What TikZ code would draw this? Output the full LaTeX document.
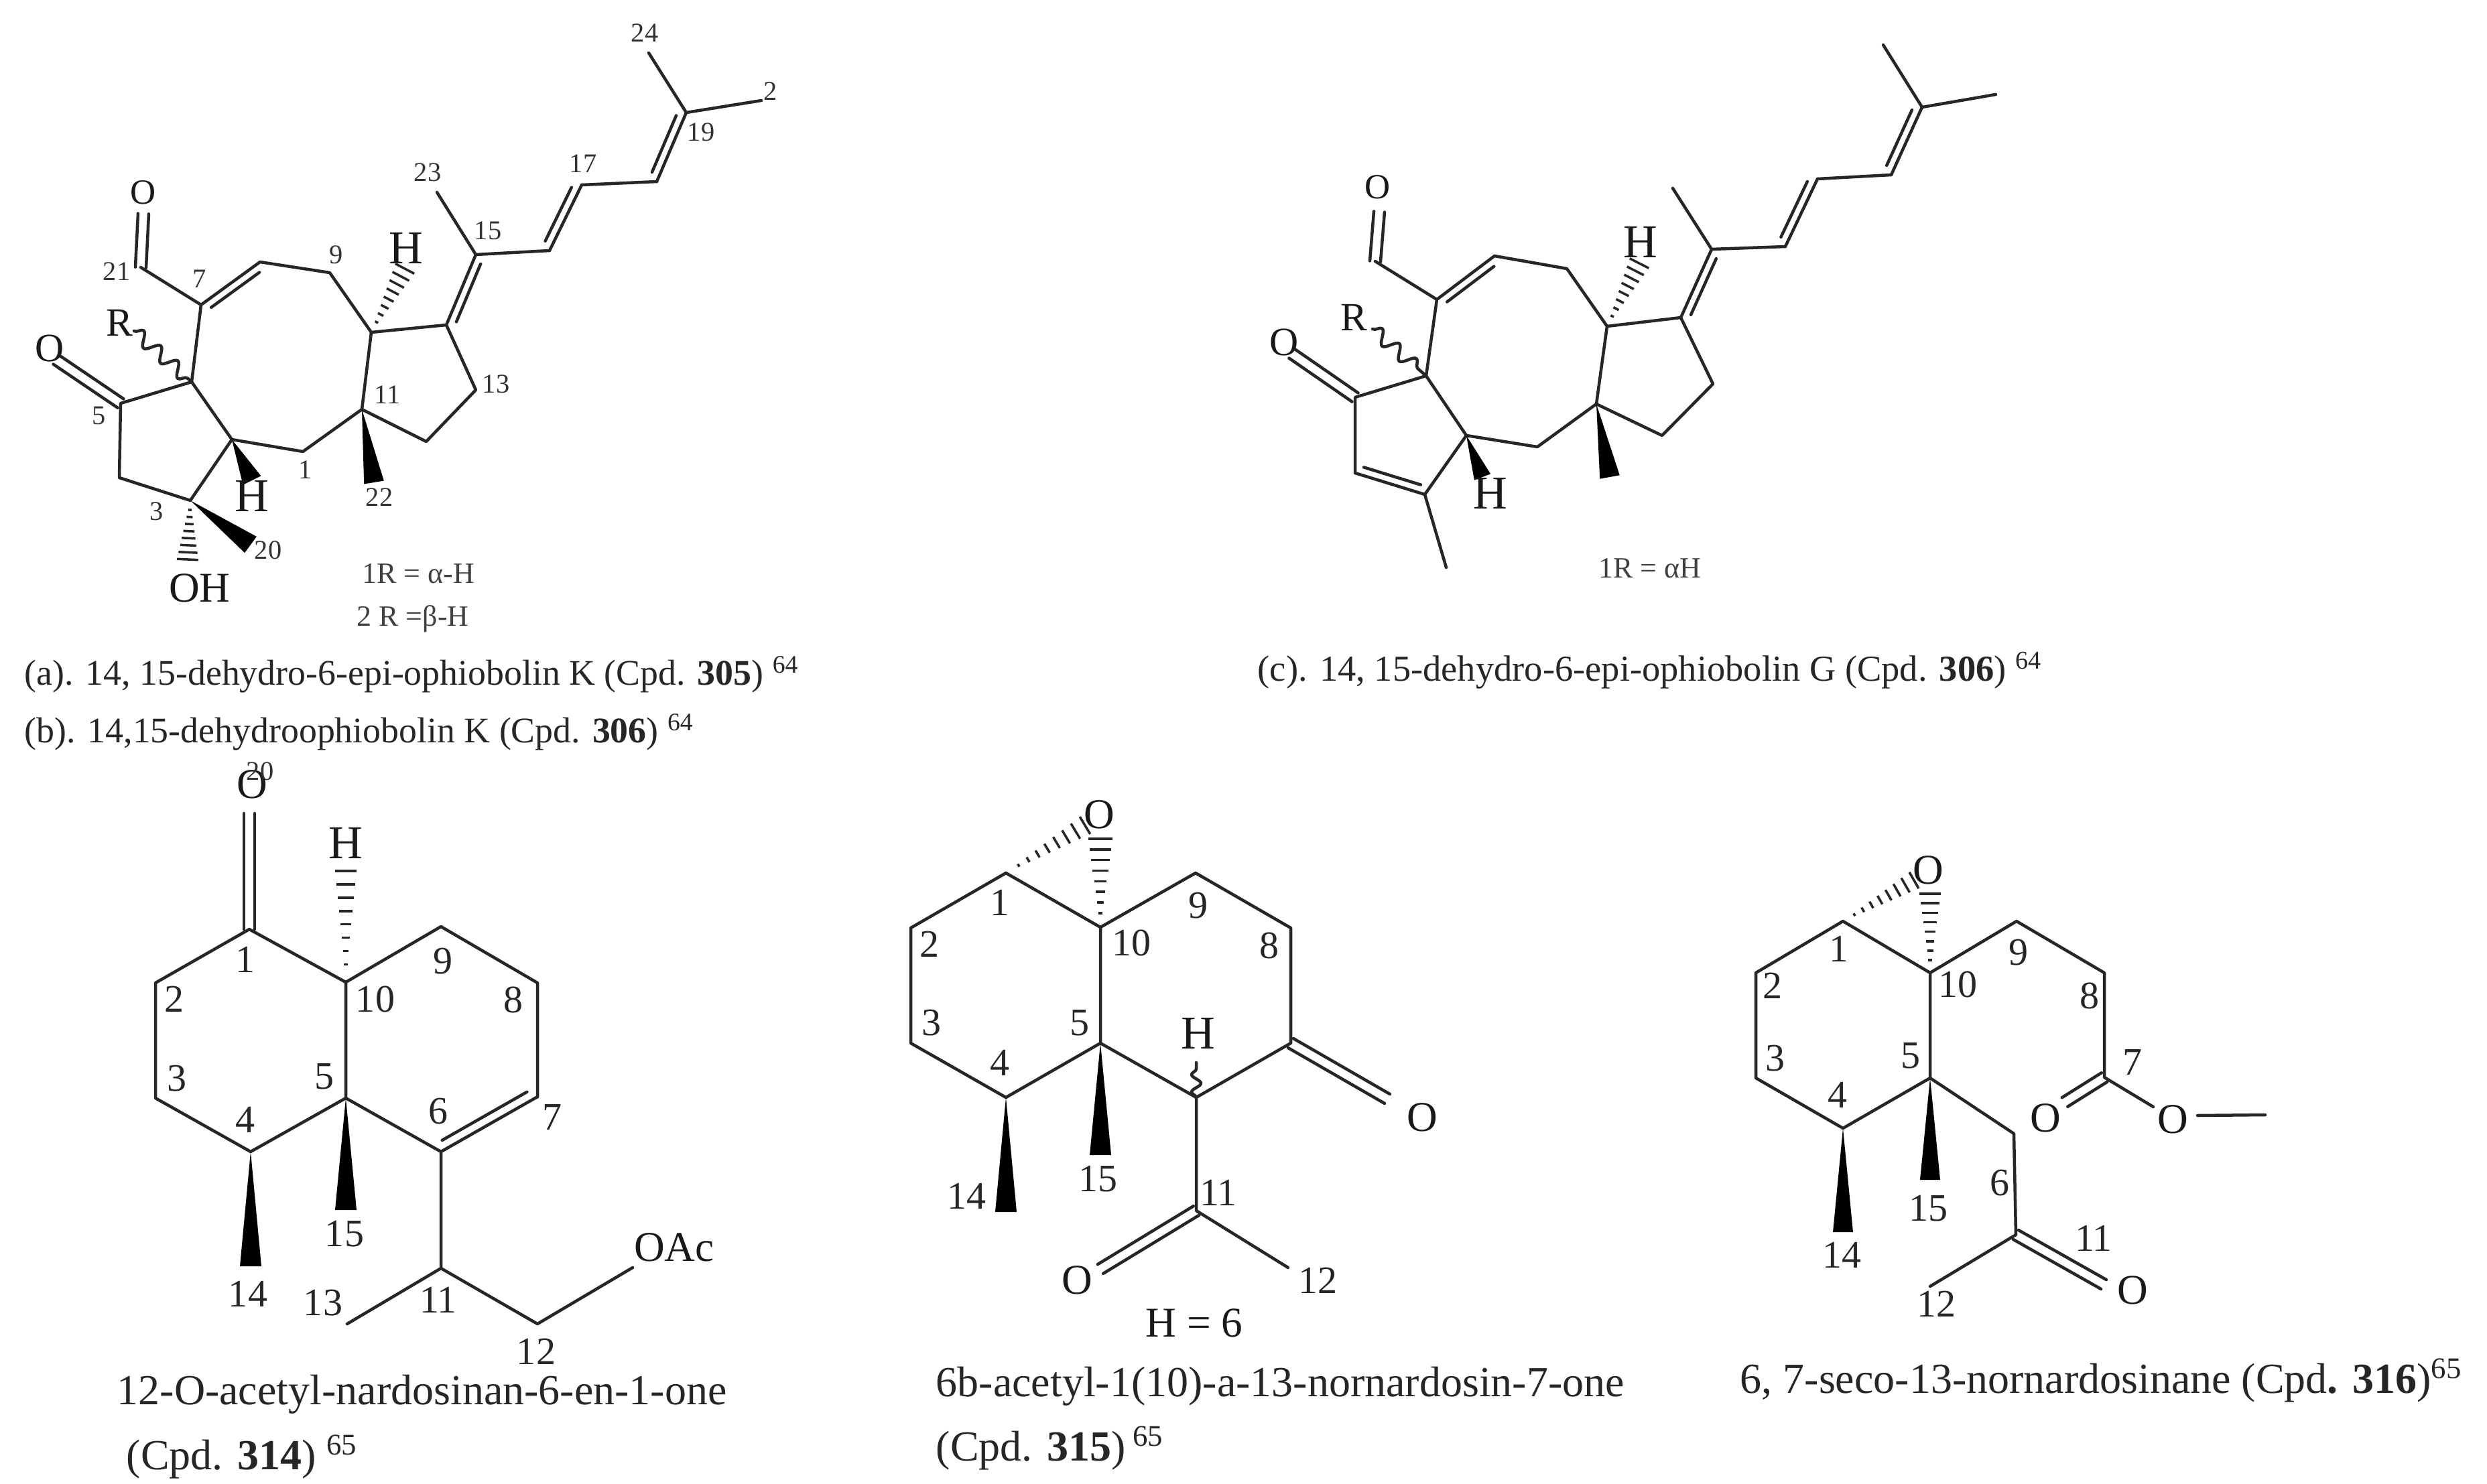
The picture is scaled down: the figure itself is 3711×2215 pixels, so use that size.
\documentclass[tikz,border=0pt]{standalone}
\usepackage{fontspec}
\setmainfont{Liberation Serif}
\usetikzlibrary{calc,decorations.pathmorphing}

\tikzset{
	bond/.style = {draw = black!85, line width = 0.045cm, line cap = round, line join = round},
	hashline/.style = {draw = black!85, line width = 0.035cm},
	wave/.style = {bond, decorate, decoration = {snake, amplitude = 0.1cm, segment length = 0.34cm}},
	numsm/.style = {inner sep = 0pt, text = black!80, font = \fontsize{11.5}{13}\selectfont},
	numlg/.style = {inner sep = 0pt, text = black!85, font = \fontsize{16.5}{19}\selectfont},
	atomsm/.style = {inner sep = 0pt, text = black!90, font = \fontsize{15}{17}\selectfont},
	atommd/.style = {inner sep = 0pt, text = black!90, font = \fontsize{17}{19}\selectfont},
	atomlg/.style = {inner sep = 0pt, text = black!90, font = \fontsize{18}{20}\selectfont},
	atomhh/.style = {inner sep = 0pt, text = black!90, font = \fontsize{20}{22}\selectfont},
	capsm/.style = {anchor = west, inner sep = 0pt, text = black!85, font = \fontsize{15.3}{18}\selectfont},
	caplg/.style = {anchor = west, inner sep = 0pt, text = black!85, font = \fontsize{18.2}{21}\selectfont},
	notesm/.style = {inner sep = 0pt, text = black!75, font = \fontsize{12.5}{14}\selectfont}
}

\newcommand{\dblbond}[3]{
	\draw[bond] (#1) -- (#2);
	\draw[bond, shorten <=0.1cm, shorten >=0.1cm] ($(#1)!#3!90:(#2)$) -- ($(#2)!#3!-90:(#1)$);
}
\newcommand{\cdblbond}[2]{
	\draw[bond] ($(#1)!0.08cm!90:(#2)$) -- ($(#2)!0.08cm!-90:(#1)$);
	\draw[bond] ($(#1)!-0.08cm!90:(#2)$) -- ($(#2)!-0.08cm!-90:(#1)$);
}
\newcommand{\wedgebond}[3]{
	\fill[black] (#1) -- ($(#2)!#3!90:(#1)$) -- ($(#2)!#3!-90:(#1)$) -- cycle;
}
\newcommand{\hashbond}[3]{
	\foreach \f in {0.16,0.28,0.4,0.52,0.64,0.76,0.88,1.0}
		\draw[hashline] ($($(#1)!\f!(#2)$)!\f*#3!90:(#1)$) -- ($($(#1)!\f!(#2)$)!\f*#3!-90:(#1)$);
}

\begin{document}
\begin{tikzpicture}[x=0.01cm, y=-0.01cm]
	\useasboundingbox[fill=white] (0,0) rectangle (3711,2215);

	% top left
	\coordinate (aMe24) at (968,79); \coordinate (aC19) at (1024,168); \coordinate (aMe2) at (1136,150);
	\coordinate (aC18) at (980,271); \coordinate (aC17) at (868,276); \coordinate (aC16) at (820,374);
	\coordinate (aC15) at (710,380); \coordinate (aMe23) at (652,287); \coordinate (aC14) at (666,485);
	\coordinate (aCr) at (554,496); \coordinate (aHe) at (604,401); \coordinate (aC9) at (492,407);
	\coordinate (aC8) at (388,391); \coordinate (aC7) at (300,455); \coordinate (aC21) at (210,399);
	\coordinate (aOe) at (214,319); \coordinate (aC6) at (286,570); \coordinate (aC5) at (180,602);
	\coordinate (aOf) at (84,537); \coordinate (aC4) at (178,713); \coordinate (aC3) at (284,747);
	\coordinate (aCb) at (346,656); \coordinate (aC1) at (452,674); \coordinate (aC11) at (540,611);
	\coordinate (aC12) at (636,659); \coordinate (aC13) at (710,582); \coordinate (aHw) at (376,717);
	\coordinate (aMe22) at (558,720); \coordinate (aMe20) at (374,813); \coordinate (aOHe) at (280,835);
	\coordinate (aRe) at (200,494);

	\draw[bond] (aMe24) -- (aC19) -- (aMe2);
	\dblbond{aC19}{aC18}{-0.12cm}
	\draw[bond] (aC18) -- (aC17);
	\dblbond{aC17}{aC16}{-0.12cm}
	\draw[bond] (aC16) -- (aC15) -- (aMe23);
	\dblbond{aC15}{aC14}{0.12cm}
	\draw[bond] (aC14) -- (aCr) -- (aC9) -- (aC8);
	\dblbond{aC7}{aC8}{-0.12cm}
	\draw[bond] (aC7) -- (aC21);
	\cdblbond{aC21}{aOe}
	\draw[bond] (aC7) -- (aC6) -- (aC5) -- (aC4) -- (aC3) -- (aCb) -- (aC1) -- (aC11) -- (aCr);
	\draw[bond] (aC6) -- (aCb);
	\cdblbond{aC5}{aOf}
	\draw[bond] (aC11) -- (aC12) -- (aC13) -- (aC14);
	\wedgebond{aCb}{aHw}{0.15cm}
	\wedgebond{aC11}{aMe22}{0.15cm}
	\wedgebond{aC3}{aMe20}{0.15cm}
	\hashbond{aCr}{aHe}{0.16cm}
	\hashbond{aC3}{aOHe}{0.16cm}
	\draw[wave] (aRe) -- (aC6);

	\node[numsm] (aL24) at (962,49) {24};
	\node[numsm] (aL2) at (1150,136) {2};
	\node[numsm] (aL19) at (1046,197) {19};
	\node[numsm] (aL17) at (870,244) {17};
	\node[numsm] (aL23) at (638,257) {23};
	\node[numsm] (aL15) at (728,344) {15};
	\node[numsm] (aL9) at (502,380) {9};
	\node[numsm] (aL21) at (174,405) {21};
	\node[numsm] (aL7) at (298,416) {7};
	\node[numsm] (aL13) at (740,573) {13};
	\node[numsm] (aL11) at (578,589) {11};
	\node[numsm] (aL5) at (148,620) {5};
	\node[numsm] (aL1) at (456,701) {1};
	\node[numsm] (aL3) at (234,763) {3};
	\node[numsm] (aL22) at (566,742) {22};
	\node[numsm] (aL20) at (400,821) {20};
	\node[atomsm] (aO1) at (214,287) {O};
	\node[atommd] (aO2) at (74,520) {O};
	\node[atommd] (aR) at (178,482) {R};
	\node[atomhh] (aH1) at (606,370) {H};
	\node[atomhh] (aH2) at (376,740) {H};
	\node[atomlg] (aOH) at (298,878) {OH};
	\node[notesm] (aNa) at (624,856) {1R = α-H};
	\node[notesm] (aNb) at (616,924) {2 R =β-H};
	\node[capsm] (aCapa) at (36,1007) {(a). 14, 15-dehydro-6-epi-ophiobolin K (Cpd. \textbf{305}) \textsuperscript{64}};
	\node[capsm] (aCapb) at (36,1093) {(b). 14,15-dehydroophiobolin K (Cpd. \textbf{306}) \textsuperscript{64}};

	% top right
	\coordinate (cMe24) at (2810,67); \coordinate (cC19) at (2868,160); \coordinate (cMe2) at (2978,141);
	\coordinate (cC18) at (2822,261); \coordinate (cC17) at (2712,267); \coordinate (cC16) at (2664,368);
	\coordinate (cC15) at (2554,372); \coordinate (cMe23) at (2496,281); \coordinate (cC14) at (2508,474);
	\coordinate (cCr) at (2398,487); \coordinate (cHe) at (2446,393); \coordinate (cC9) at (2338,401);
	\coordinate (cC8) at (2230,382); \coordinate (cC7) at (2144,447); \coordinate (cC21) at (2052,390);
	\coordinate (cOe) at (2058,316); \coordinate (cC6) at (2128,561); \coordinate (cC5) at (2022,593);
	\coordinate (cOf) at (1928,528); \coordinate (cC4) at (2022,706); \coordinate (cC3) at (2126,738);
	\coordinate (cCb) at (2188,650); \coordinate (cC1) at (2294,667); \coordinate (cC11) at (2382,603);
	\coordinate (cC12) at (2480,650); \coordinate (cC13) at (2556,573); \coordinate (cHw) at (2212,712);
	\coordinate (cMeW) at (2402,712); \coordinate (cMe3) at (2158,847); \coordinate (cRe) at (2048,491);

	\draw[bond] (cMe24) -- (cC19) -- (cMe2);
	\dblbond{cC19}{cC18}{-0.12cm}
	\draw[bond] (cC18) -- (cC17);
	\dblbond{cC17}{cC16}{-0.12cm}
	\draw[bond] (cC16) -- (cC15) -- (cMe23);
	\dblbond{cC15}{cC14}{0.12cm}
	\draw[bond] (cC14) -- (cCr) -- (cC9) -- (cC8);
	\dblbond{cC7}{cC8}{-0.12cm}
	\draw[bond] (cC7) -- (cC21);
	\cdblbond{cC21}{cOe}
	\draw[bond] (cC7) -- (cC6) -- (cC5) -- (cC4);
	\dblbond{cC4}{cC3}{0.12cm}
	\draw[bond] (cC3) -- (cCb) -- (cC1) -- (cC11) -- (cCr);
	\draw[bond] (cC6) -- (cCb);
	\draw[bond] (cC3) -- (cMe3);
	\cdblbond{cC5}{cOf}
	\draw[bond] (cC11) -- (cC12) -- (cC13) -- (cC14);
	\wedgebond{cCb}{cHw}{0.13cm}
	\wedgebond{cC11}{cMeW}{0.15cm}
	\hashbond{cCr}{cHe}{0.16cm}
	\draw[wave] (cRe) -- (cC6);

	\node[atomsm] (cO1) at (2056,279) {O};
	\node[atommd] (cO2) at (1916,511) {O};
	\node[atommd] (cR) at (2020,474) {R};
	\node[atomhh] (cH1) at (2448,361) {H};
	\node[atomhh] (cH2) at (2224,736) {H};
	\node[notesm] (cNa) at (2462,848) {1R = αH};
	\node[capsm, font = \fontsize{15.5}{18}\selectfont] (cCapc) at (1876,1001) {(c). 14, 15-dehydro-6-epi-ophiobolin G (Cpd. \textbf{306}) \textsuperscript{64}};

	% bottom left
	\coordinate (dOe) at (372,1214); \coordinate (dC1) at (372,1387); \coordinate (dC2) at (232,1467);
	\coordinate (dC3) at (232,1639); \coordinate (dC4) at (374,1719); \coordinate (dC5) at (516,1639);
	\coordinate (dC10) at (516,1466); \coordinate (dC9) at (658,1383); \coordinate (dC8) at (802,1467);
	\coordinate (dC7) at (802,1637); \coordinate (dC6) at (658,1719); \coordinate (dC11) at (658,1893);
	\coordinate (dC13) at (518,1976); \coordinate (dC12) at (802,1976); \coordinate (dOAe) at (944,1892);
	\coordinate (dHe) at (516,1300); \coordinate (dMe14) at (374,1890); \coordinate (dMe15) at (516,1806);

	\cdblbond{dC1}{dOe}
	\draw[bond] (dC1) -- (dC2) -- (dC3) -- (dC4) -- (dC5) -- (dC10) -- (dC1);
	\draw[bond] (dC10) -- (dC9) -- (dC8) -- (dC7);
	\dblbond{dC6}{dC7}{0.14cm}
	\draw[bond] (dC6) -- (dC5);
	\draw[bond] (dC6) -- (dC11) -- (dC13);
	\draw[bond] (dC11) -- (dC12) -- (dOAe);
	\wedgebond{dC4}{dMe14}{0.16cm}
	\wedgebond{dC5}{dMe15}{0.16cm}
	\hashbond{dC10}{dHe}{0.16cm}

	\node[atomlg] (dO) at (376,1171) {O};
	\node[numsm] (dL20) at (388,1151) {20};
	\node[atomhh] (dH) at (516,1258) {H};
	\node[atomlg] (dOAc) at (1006,1862) {OAc};
	\node[numlg] (dL1) at (366,1432) {1};
	\node[numlg] (dL2) at (260,1491) {2};
	\node[numlg] (dL3) at (264,1610) {3};
	\node[numlg] (dL4) at (366,1671) {4};
	\node[numlg] (dL5) at (484,1607) {5};
	\node[numlg] (dL6) at (654,1659) {6};
	\node[numlg] (dL7) at (824,1667) {7};
	\node[numlg] (dL8) at (766,1492) {8};
	\node[numlg] (dL9) at (661,1435) {9};
	\node[numlg] (dL10) at (560,1491) {10};
	\node[numlg] (dL11) at (654,1940) {11};
	\node[numlg] (dL12) at (800,2017) {12};
	\node[numlg] (dL13) at (482,1945) {13};
	\node[numlg] (dL14) at (370,1931) {14};
	\node[numlg] (dL15) at (514,1842) {15};
	\node[caplg] (dCapa) at (174,2081) {12-O-acetyl-nardosinan-6-en-1-one};
	\node[caplg] (dCapb) at (188,2174) {(Cpd. \textbf{314}) \textsuperscript{65}};

	% bottom middle
	\coordinate (eC1) at (1501,1303); \coordinate (eC2) at (1359,1385); \coordinate (eC3) at (1359,1557);
	\coordinate (eC4) at (1501,1638); \coordinate (eC5) at (1642,1557); \coordinate (eC10) at (1642,1384);
	\coordinate (eC9) at (1784,1303); \coordinate (eC8) at (1926,1385); \coordinate (eC7) at (1926,1557);
	\coordinate (eC6) at (1785,1638); \coordinate (eC11) at (1785,1807); \coordinate (eC12) at (1922,1892);
	\coordinate (eOa) at (1642,1894); \coordinate (eOb) at (2070,1640); \coordinate (eHa) at (1619,1232);
	\coordinate (eHb) at (1642,1252); \coordinate (eMe14) at (1501,1809); \coordinate (eMe15) at (1642,1724);
	\coordinate (eWv) at (1785,1586);

	\draw[bond] (eC1) -- (eC2) -- (eC3) -- (eC4) -- (eC5) -- (eC10) -- (eC1);
	\draw[bond] (eC10) -- (eC9) -- (eC8) -- (eC7) -- (eC6) -- (eC5);
	\draw[bond] (eC6) -- (eC11) -- (eC12);
	\cdblbond{eC11}{eOa}
	\cdblbond{eC7}{eOb}
	\wedgebond{eC4}{eMe14}{0.16cm}
	\wedgebond{eC5}{eMe15}{0.16cm}
	\hashbond{eC1}{eHa}{0.15cm}
	\hashbond{eC10}{eHb}{0.18cm}
	\draw[wave, decoration = {snake, amplitude = 0.07cm, segment length = 0.26cm}] (eC6) -- (eWv);

	\node[atomlg] (eO1) at (1640,1216) {O};
	\node[atomlg] (eO2) at (1607,1911) {O};
	\node[atomlg] (eO3) at (2122,1668) {O};
	\node[atomhh] (eH) at (1788,1542) {H};
	\node[numlg] (eL1) at (1492,1347) {1};
	\node[numlg] (eL2) at (1387,1409) {2};
	\node[numlg] (eL3) at (1390,1527) {3};
	\node[numlg] (eL4) at (1492,1586) {4};
	\node[numlg] (eL5) at (1611,1527) {5};
	\node[numlg] (eL8) at (1894,1411) {8};
	\node[numlg] (eL9) at (1788,1352) {9};
	\node[numlg] (eL10) at (1688,1407) {10};
	\node[numlg] (eL11) at (1818,1780) {11};
	\node[numlg] (eL12) at (1966,1911) {12};
	\node[numlg] (eL14) at (1442,1785) {14};
	\node[numlg] (eL15) at (1638,1760) {15};
	\node[atomlg] (eNote) at (1782,1975) {H = 6};
	\node[caplg] (eCapa) at (1396,2069) {6b-acetyl-1(10)-a-13-nornardosin-7-one};
	\node[caplg] (eCapb) at (1396,2161) {(Cpd. \textbf{315})\,\textsuperscript{65}};

	% bottom right
	\coordinate (fC1) at (2750,1375); \coordinate (fC2) at (2620,1452); \coordinate (fC3) at (2620,1609);
	\coordinate (fC4) at (2750,1684); \coordinate (fC5) at (2880,1609); \coordinate (fC10) at (2880,1452);
	\coordinate (fC9) at (3009,1375); \coordinate (fC8) at (3140,1452); \coordinate (fC7) at (3140,1608);
	\coordinate (fC6) at (3005,1692); \coordinate (fC11) at (3008,1843); \coordinate (fC12) at (2880,1920);
	\coordinate (fOa) at (3139,1917); \coordinate (fOb) at (3081,1645); \coordinate (fOc) at (3213,1652);
	\coordinate (fOd) at (3279,1665); \coordinate (fMe) at (3380,1664); \coordinate (fHa) at (2856,1314);
	\coordinate (fHb) at (2880,1334); \coordinate (fMe14) at (2750,1839); \coordinate (fMe15) at (2880,1761);

	\draw[bond] (fC1) -- (fC2) -- (fC3) -- (fC4) -- (fC5) -- (fC10) -- (fC1);
	\draw[bond] (fC10) -- (fC9) -- (fC8) -- (fC7) -- (fOc);
	\draw[bond] (fC5) -- (fC6) -- (fC11) -- (fC12);
	\draw[bond] (fOd) -- (fMe);
	\cdblbond{fC11}{fOa}
	\cdblbond{fC7}{fOb}
	\wedgebond{fC4}{fMe14}{0.15cm}
	\wedgebond{fC5}{fMe15}{0.15cm}
	\hashbond{fC1}{fHa}{0.14cm}
	\hashbond{fC10}{fHb}{0.16cm}

	\node[atomlg] (fO1) at (2877,1299) {O};
	\node[atomlg] (fO2) at (3052,1669) {O};
	\node[atomlg] (fO3) at (3242,1671) {O};
	\node[atomlg] (fO4) at (3182,1926) {O};
	\node[numlg] (fL1) at (2744,1416) {1};
	\node[numlg] (fL2) at (2645,1471) {2};
	\node[numlg] (fL3) at (2649,1580) {3};
	\node[numlg] (fL4) at (2742,1634) {4};
	\node[numlg] (fL5) at (2851,1576) {5};
	\node[numlg] (fL6) at (2984,1766) {6};
	\node[numlg] (fL7) at (3182,1585) {7};
	\node[numlg] (fL8) at (3118,1486) {8};
	\node[numlg] (fL9) at (3012,1422) {9};
	\node[numlg] (fL10) at (2921,1469) {10};
	\node[numlg] (fL11) at (3124,1848) {11};
	\node[numlg] (fL12) at (2889,1946) {12};
	\node[numlg] (fL14) at (2748,1873) {14};
	\node[numlg] (fL15) at (2877,1804) {15};
	\node[capsm, font = \fontsize{18.2}{21}\selectfont] (fCap) at (2596,2060) {6, 7-seco-13-nornardosinane (Cpd\textbf{. 316})\textsuperscript{65}};
\end{tikzpicture}
\end{document}
